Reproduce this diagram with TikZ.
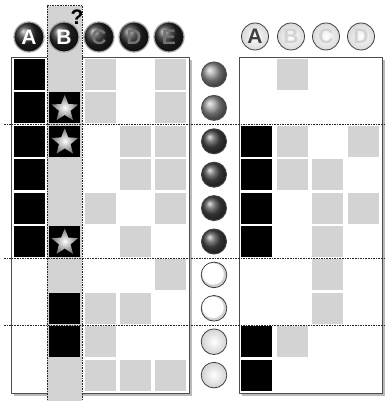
\documentclass[tikz,border=0pt]{standalone}
\usepackage{fontspec}
\setmainfont{Liberation Sans}
\usetikzlibrary{shapes.geometric,shadows}
\definecolor{cellgray}{HTML}{D3D3D3}

\tikzset{
  board/.style={fill=white, draw=black!70, line width=0.8pt,
    drop shadow={shadow xshift=3pt, shadow yshift=-3pt, opacity=0.45, fill=black!60}},
  divider/.style={black!85, line width=1pt, dash pattern=on 1.6pt off 1pt},
  hdark/.style={circle, minimum size=30pt, inner sep=0pt, ball color=black!85, draw=gray!70, line width=1.2pt, text=white},
  hdim/.style={hdark, text=black!55},
  hlight/.style={circle, minimum size=27pt, inner sep=0pt, draw=black!75, line width=0.8pt,
    shading=radial, inner color=white, outer color=gray!30, text=black!75},
  hoff/.style={hlight, text=gray!35},
  starmark/.style={star, star points=5, star point ratio=2.3, minimum size=28pt, inner sep=0pt,
    shading=radial, inner color=white, outer color=black!55}
}

\begin{document}
\begin{tikzpicture}[x=1pt, y=-1pt, line join=round, font=\bfseries\fontsize{21}{21}\selectfont]
	\useasboundingbox (0, 0) rectangle (385, 401);
	% boards
	\draw[board] (11, 57) rectangle (189, 393);
	\draw[board] (239, 57) rectangle (382, 393);
	% column in question
	\fill[cellgray] (47, 6) rectangle (82, 401);
	% left board
	\foreach \i/\j in {3/1,5/1,3/2,5/2,4/3,5/3,4/4,5/4,3/5,5/5,4/6,5/7,3/8,4/8,3/9,3/10,4/10,5/10}
		\fill[cellgray] ({14+35.25*(\i-1)}, {59+33.4*(\j-1)}) rectangle ++(31, 31);
	\foreach \i/\j in {1/1,1/2,1/3,1/4,1/5,1/6,2/2,2/3,2/6,2/8,2/9}
		\fill[black] ({14+35.25*(\i-1)}, {59+33.4*(\j-1)}) rectangle ++(31, 31);
	\foreach \j in {2, 3, 6}
		\node[starmark] (s\j) at (64.75, {75.5+33.4*(\j-1)}) {};
	% right board
	\foreach \i/\j in {2/1,2/3,4/3,2/4,3/4,3/5,4/5,3/6,3/7,3/8,2/9}
		\fill[cellgray] ({241+35.6*(\i-1)}, {59+33.4*(\j-1)}) rectangle ++(31, 31);
	\foreach \i/\j in {1/3,1/4,1/5,1/6,1/9,1/10}
		\fill[black] ({241+35.6*(\i-1)}, {59+33.4*(\j-1)}) rectangle ++(31, 31);
	% pegs
	\foreach \j in {1, 2} {
		\fill[black!70] (214, {74.5+33.4*(\j-1)}) circle (13);
		\shade[ball color=gray!80] (214, {74.5+33.4*(\j-1)}) circle (11.8);
	}
	\foreach \j in {3, ..., 6} {
		\fill[black!75] (214, {74.5+33.4*(\j-1)}) circle (13);
		\shade[ball color=black!70] (214, {74.5+33.4*(\j-1)}) circle (11.8);
	}
	\foreach \j in {7, 8}
		\shade[draw=black!75, line width=0.8pt, inner color=white, outer color=gray!45] (214, {74.5+33.4*(\j-1)}) circle (12.8);
	\foreach \j in {7, 8}
		\fill[white] (213, {73.5+33.4*(\j-1)}) circle (10.8);
	\foreach \j in {9, 10}
		\shade[draw=black!75, line width=0.8pt, inner color=white, outer color=gray!35] (214, {74.5+33.4*(\j-1)}) circle (12.8);
	% dividers
	\foreach \y in {124.5, 258, 325} \draw[divider] (4, \y) -- (385, \y);
	\draw[divider] (47, 6) -- (82, 6);
	\draw[divider] (47, 6) -- (47, 401);
	\draw[divider] (82, 6) -- (82, 401);
	\node[font=\bfseries\fontsize{21}{21}\selectfont, inner sep=0pt] (qm) at (77, 17) {?};
	% headers
	\node[hdark] (lA) at (29, 37) {A};
	\node[hdark] (lB) at (64, 37) {B};
	\foreach \l/\x in {C/99, D/134, E/169} \node[hdim] (l\l) at (\x, 37) {\l};
	\node[hlight] (rA) at (255, 36.5) {A};
	\foreach \l/\x in {B/291, C/326, D/361} \node[hoff] (r\l) at (\x, 36.5) {\l};
\end{tikzpicture}
\end{document}
